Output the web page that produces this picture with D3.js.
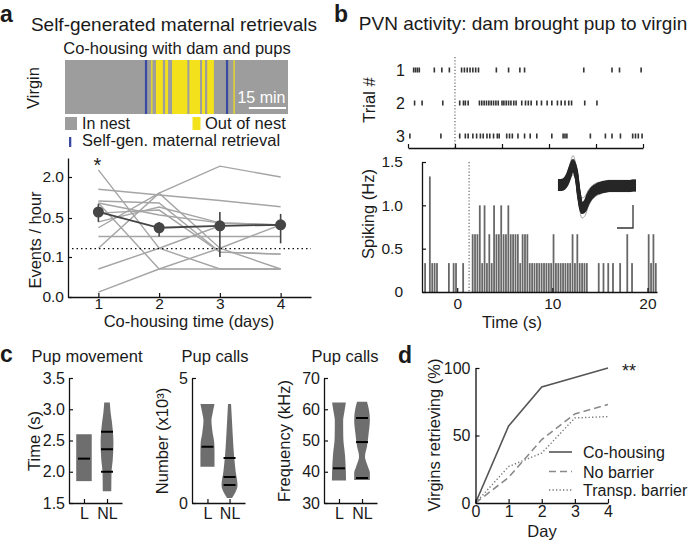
<!DOCTYPE html>
<html><head><meta charset="utf-8">
<script src="https://cdn.jsdelivr.net/npm/d3@7"></script>
<style>
body{margin:0;background:#fff}
svg{display:block}
</style></head><body>
<svg id="chart" width="691" height="544"></svg>
<script>
// ================= DATA =================
// Panel a – ethogram (minutes)
const sessionMinutes = [0, 90];
const outOfNestBouts = [[34.8,35.3],[36.7,39.5],[40.4,41.6],[43.2,49.4],[50.2,54.5],[55.3,56.5],[57.4,60.1],[68.0,68.5]];
const retrievalTimes = [32.7, 65.4];
const scaleBarMinutes = 15;

// Panel a – events / hour per virgin, co-housing days 1..4
const coDays = [1, 2, 3, 4];
const virginRates = [
  [1.55, 1.34, 1.14, 0.91],
  [0.19, 1.41, 2.40, 2.00],
  [1.12, 1.05, 0.15, 0.13],
  [1.05, 0.61, 0.45, 0.43],
  [0.68, 0.79, 0.15, 0.13],
  [0.31, 0.31, 0.31, 0.31],
  [0.07, 0.19, 0.42, 0.43],
  [0.012, 0.07, 0.19, 0.43],
  [2.26, 0.19, 0.07, 0.07],
  [1.05, 0.07, 0.07, 0.07],
  [0.40, 1.41, 0.19, 0.07],
  [0.46, 0.90, 0.45, 0.43]
];
const meanRate = [0.72, 0.40, 0.42, 0.43];
const rateErrLow = [0.46, 0.31, 0.10, 0.24];
const rateErrHigh = [1.01, 0.46, 0.72, 0.65];
const chanceRate = 0.185;
const rateTicks = [0, 0.1, 0.5, 2.0];

// Panel b – raster spike times (s)
const trial1 = [-4.4,-4.2,-4.0,-3.8,-2.2,-1.4,-0.6,0.7,1.0,1.3,1.6,1.9,2.2,2.5,4.4,5.7,6.9,7.4,13.7,16.7,17.5,19.8];
const trial2 = [-4.3,-3.5,-1.3,0.5,0.9,1.1,1.4,2.6,2.85,3.1,3.35,3.6,3.85,4.1,4.35,4.6,5.0,5.2,5.45,5.7,5.95,6.25,6.5,7.1,7.5,7.8,8.1,8.7,9.2,9.8,10.3,10.9,11.3,11.7,12.1,12.4,13.8,15.1];
const trial3 = [-4.8,-1.5,0.5,1.1,1.4,1.9,2.3,2.7,3.0,3.4,3.7,4.1,4.5,4.7,5.5,5.8,6.1,6.7,7.4,8.0,8.7,10.3,11.5,11.7,11.9,14.4,16.0,16.7,17.6,18.9,19.2,19.5,19.9];
const rasterTicks = [-5, 0, 5, 10, 15, 20];

// Panel b – PSTH (spike counts summed over 3 trials, 0.25 s bins from -3.75 s)
const histStart = -3.75, histBin = 0.25, histTrials = 3;
const histCounts = [
  0,1,0,4,1,1,1,0,0,0,
  0,1,0,1,1,0,0,1,0,0,
  0,2,2,2,3,1,3,1,2,1,
  3,2,2,3,2,2,3,2,2,2,
  2,1,2,2,2,1,1,1,1,1,
  1,1,1,1,1,2,1,1,1,1,
  1,1,1,2,1,2,1,1,1,1,
  0,0,0,0,1,0,1,0,1,0,
  1,0,0,1,0,0,2,0,1,0,
  0,0,0,0,0,2,1,2,1
];
const histMarkerTime = 1.25;
const histYTicks = [0, 0.5, 1.0, 1.5];
const histXTicks = [0, 10, 20];

// Panel b – spike waveform inset (arbitrary units, one value per sample)
const waveform = [0,0,1,5,13,20,12,-10,-23,-21,-14,-9,-6,-4,-3,-2,-1.5,-1,-1,-1,-1,-1,-1,-1,-1,-0.5,-0.5];
const waveOffsets = [-4.5,-3,-1.5,0,1.5,3,4.5];
const waveEnvelopeGain = [0.8, 1.2];

// Panel c – violins  [value, relative density]
const movementL  = [[1.85,0.97],[2.6,0.97]];
const movementNL = [[1.69,0.53],[1.8,0.54],[1.98,0.56],[2.2,0.72],[2.47,0.8],[2.79,0.62],[2.95,0.45],[3.11,0.35]];
const movementLinesL = [2.21], movementLinesNL = [2.0, 2.36, 2.64];
const callsL  = [[1.45,0.88],[2.0,0.88],[2.4,0.85],[2.8,0.65],[3.3,0.5],[3.6,0.65],[3.96,0.88]];
const callsNL = [[0.2,0.31],[0.45,0.77],[0.72,1.0],[1.25,0.77],[1.92,0.56],[2.6,0.42],[3.25,0.31],[3.96,0.19]];
const callsLinesL = [2.25], callsLinesNL = [0.72, 1.04, 1.8];
const freqL  = [[37.2,0.88],[40.1,0.86],[45.4,0.75],[50.9,0.54],[56.2,0.52],[59.5,0.7],[62.2,0.86]];
const freqNL = [[37.4,0.98],[39.6,0.98],[41.7,0.73],[44.9,0.37],[48.1,0.62],[52.3,0.83],[56.6,0.98],[59.8,0.87],[62.4,0.62]];
const freqLinesL = [41.1], freqLinesNL = [38.0, 49.5, 57.2];
const groups = ["L", "NL"];

// Panel d – % virgins retrieving
const dDays = [0, 1, 2, 3, 4];
const coHousing = [0, 57, 86, 93, 100];
const noBarrier = [0, 19, 47, 66, 73];
const transpBarrier = [0, 27, 37, 63, 64];
const dLegend = ["Co-housing", "No barrier", "Transp. barrier"];

// ================= DRAWING =================
const FONT = '"Liberation Sans", Arial, Helvetica, sans-serif';
const INK = "#1a1a1a";
const svg = d3.select("#chart").attr("font-family", FONT);
svg.append("rect").attr("width", 691).attr("height", 544).attr("fill", "#fff");

function label(x, y, str, size, opt = {}) {
  const t = svg.append("text").attr("x", x).attr("y", y).text(str)
    .attr("font-size", size).attr("fill", opt.fill || INK)
    .attr("text-anchor", opt.anchor || "start");
  if (opt.bold) t.attr("font-weight", "bold");
  if (opt.rotate) t.attr("transform", `rotate(-90,${x},${y})`);
  return t;
}
function styleAxis(g, size) {
  g.attr("font-family", FONT).attr("font-size", size);
  g.select(".domain").attr("stroke", "#111").attr("stroke-width", 1.3);
  g.selectAll(".tick line").attr("stroke", "#111").attr("stroke-width", 1.2);
  g.selectAll(".tick text").attr("fill", INK);
}

// ---- panel letters
label(0, 22, "a", 23, {bold: true});
label(334, 22, "b", 23, {bold: true});
label(0, 362, "c", 23, {bold: true});
label(398, 363, "d", 23, {bold: true});

// ================= Panel a =================
label(174, 31, "Self-generated maternal retrievals", 19, {anchor: "middle"});
label(177, 54, "Co-housing with dam and pups", 16.5, {anchor: "middle"});
label(39, 88, "Virgin", 16.5, {anchor: "middle", rotate: true});

const xE = d3.scaleLinear().domain(sessionMinutes).range([65, 288]);
svg.append("rect").attr("x", xE(0)).attr("y", 60).attr("width", xE(90) - xE(0)).attr("height", 54).attr("fill", "#9d9d9d");
svg.selectAll(".bout").data(outOfNestBouts).enter().append("rect")
  .attr("x", d => xE(d[0])).attr("width", d => xE(d[1]) - xE(d[0]))
  .attr("y", 60).attr("height", 54).attr("fill", "#f3e11c");
svg.selectAll(".retr").data(retrievalTimes).enter().append("rect")
  .attr("x", d => xE(d) - 1.1).attr("width", 2.2)
  .attr("y", 60).attr("height", 54).attr("fill", "#3a4aa3");
const sbRight = xE(sessionMinutes[1]) - 2;
const sbLeft = sbRight - (xE(scaleBarMinutes) - xE(0));
svg.append("line").attr("x1", sbLeft).attr("x2", sbRight).attr("y1", 108).attr("y2", 108)
  .attr("stroke", "#fff").attr("stroke-width", 2);
label((sbLeft + sbRight) / 2 - 6, 103, "15 min", 16, {anchor: "middle", fill: "#fff"});

// legend
svg.append("rect").attr("x", 65).attr("y", 117).attr("width", 12).attr("height", 13).attr("fill", "#9d9d9d");
label(82, 129, "In nest", 16);
svg.append("rect").attr("x", 192.5).attr("y", 117).attr("width", 8).attr("height", 13).attr("fill", "#f3e11c");
label(205, 129, "Out of nest", 16.5);
svg.append("rect").attr("x", 69).attr("y", 137).attr("width", 2.3).attr("height", 10).attr("fill", "#3a4aa3");
label(82, 146, "Self-gen. maternal retrieval", 16.5);

// line chart
const xA = d3.scaleLinear().domain([0.5, 4.5]).range([68, 311]);
const yA = d3.scaleLinear().domain([0, 0.1, 0.5, 2.0, 2.7]).range([297, 257, 218, 177, 158]);
const lineA = d3.line().x((d, i) => xA(coDays[i])).y(d => yA(d));
svg.append("g").selectAll("path").data(virginRates).enter().append("path")
  .attr("d", lineA).attr("fill", "none").attr("stroke", "#a5a5a5").attr("stroke-width", 1.4);
svg.append("line").attr("x1", 72).attr("x2", 311).attr("y1", yA(chanceRate)).attr("y2", yA(chanceRate))
  .attr("stroke", "#111").attr("stroke-width", 1.3).attr("stroke-dasharray", "1.5,3");
svg.append("g").selectAll("line").data(coDays).enter().append("line")
  .attr("x1", d => xA(d)).attr("x2", d => xA(d))
  .attr("y1", (d, i) => yA(rateErrLow[i])).attr("y2", (d, i) => yA(rateErrHigh[i]))
  .attr("stroke", "#454545").attr("stroke-width", 1.6);
svg.append("path").attr("d", lineA(meanRate)).attr("fill", "none").attr("stroke", "#454545").attr("stroke-width", 1.8);
svg.append("g").selectAll("circle").data(meanRate).enter().append("circle")
  .attr("cx", (d, i) => xA(coDays[i])).attr("cy", d => yA(d)).attr("r", 5.5).attr("fill", "#454545");
label(xA(1) - 1, 172, "*", 20, {anchor: "middle"});

const gAy = svg.append("g").attr("transform", "translate(68,0)")
  .call(d3.axisLeft(yA).tickValues(rateTicks).tickFormat(d3.format(".1f")).tickSizeInner(-4).tickSizeOuter(0).tickPadding(4));
styleAxis(gAy, 15.5);
const gAx = svg.append("g").attr("transform", "translate(0,297)")
  .call(d3.axisBottom(xA).tickValues(coDays).tickFormat(d3.format("d")).tickSizeInner(-4).tickSizeOuter(0).tickPadding(1));
styleAxis(gAx, 15.5);
label(41, 240, "Events / hour", 16.5, {anchor: "middle", rotate: true});
label(189, 327, "Co-housing time (days)", 16.5, {anchor: "middle"});

// ================= Panel b =================
label(523, 30, "PVN activity: dam brought pup to virgin", 19, {anchor: "middle"});

// raster
const xR = d3.scaleLinear().domain([-5, 20]).range([408, 643]);
const yR = d3.scaleLinear().domain([1, 3]).range([70, 136]);
[trial1, trial2, trial3].forEach((tr, k) => {
  svg.append("g").selectAll("rect").data(tr).enter().append("rect")
    .attr("x", d => xR(d) - 0.8).attr("width", 1.6)
    .attr("y", yR(k + 1) - 2.5).attr("height", 5).attr("fill", "#333");
  label(405, yR(k + 1) + 5.7, String(k + 1), 16, {anchor: "end"});
});
svg.append("line").attr("x1", xR(0)).attr("x2", xR(0)).attr("y1", 57).attr("y2", 148)
  .attr("stroke", "#666").attr("stroke-width", 1.2).attr("stroke-dasharray", "1.2,2");
const gRx = svg.append("g").attr("transform", "translate(0,148)")
  .call(d3.axisBottom(xR).tickValues(rasterTicks).tickFormat("").tickSizeInner(-4).tickSizeOuter(0));
styleAxis(gRx, 15);
label(375, 100, "Trial #", 16.5, {anchor: "middle", rotate: true});

// histogram
const xH = d3.scaleLinear().domain([-3.7, 21]).range([422, 657]);
const yH = d3.scaleLinear().domain([0, 1.5]).range([292, 162]);
const hg = svg.append("g");
histCounts.forEach((c, i) => {
  if (c === 0) return;
  const t0 = histStart + i * histBin;
  const x0 = Math.max(xH(t0), 422.5), x1 = xH(t0 + histBin);
  if (x1 <= x0) return;
  const rate = c / histTrials;
  hg.append("rect").attr("x", x0 + 0.3).attr("width", Math.max(x1 - x0 - 0.6, 0.6))
    .attr("y", yH(rate)).attr("height", yH(0) - yH(rate)).attr("fill", "#676767");
});
svg.append("line").attr("x1", xH(histMarkerTime)).attr("x2", xH(histMarkerTime)).attr("y1", 162).attr("y2", 292)
  .attr("stroke", "#666").attr("stroke-width", 1.2).attr("stroke-dasharray", "1.2,2");
const gHy = svg.append("g").attr("transform", "translate(422,0)")
  .call(d3.axisLeft(yH).tickValues(histYTicks).tickFormat(d => d === 0 ? "0" : d3.format(".1f")(d))
    .tickSizeInner(-4).tickSizeOuter(0).tickPadding(19));
styleAxis(gHy, 15.5);
const gHx = svg.append("g").attr("transform", "translate(0,292)")
  .call(d3.axisBottom(xH).tickValues(histXTicks).tickFormat(d3.format("d")).tickSizeInner(-4).tickSizeOuter(0).tickPadding(6));
styleAxis(gHx, 15.5);
label(374, 214, "Spiking (Hz)", 16.5, {anchor: "middle", rotate: true});
label(512, 328, "Time (s)", 16.5, {anchor: "middle"});

// waveform inset
const xW = d3.scaleLinear().domain([0, waveform.length - 1]).range([558, 636]);
const yW = d3.scaleLinear().domain([-25, 25]).range([210, 160]);
const waveLine = (gain, off) => d3.line().curve(d3.curveCatmullRom)
  .x((d, i) => xW(i)).y(d => yW(d * gain) + off)(waveform);
waveEnvelopeGain.forEach(g => {
  [-5.5, 5.5].forEach(o => svg.append("path").attr("d", waveLine(g, o)).attr("fill", "none")
    .attr("stroke", "#8a8a8a").attr("stroke-width", 0.8));
});
waveOffsets.forEach(o => svg.append("path").attr("d", waveLine(1, o)).attr("fill", "none")
  .attr("stroke", "#262626").attr("stroke-width", 3));
svg.append("path").attr("d", "M617,228H633V205").attr("fill", "none").attr("stroke", "#333").attr("stroke-width", 1.3);

// ================= Panel c =================
const VW = 8;
function violinPanel(cfg) {
  const y = d3.scaleLinear().domain(cfg.domain).range([503, 378]);
  const x = d3.scalePoint().domain(groups).range([cfg.x0, cfg.x0 + 53]).padding(cfg.pad);
  const area = cx => d3.area().curve(d3.curveMonotoneY)
    .y(d => y(d[0])).x0(d => cx - VW * d[1]).x1(d => cx + VW * d[1]);
  [[cfg.L, cfg.linesL, "L"], [cfg.NL, cfg.linesNL, "NL"]].forEach(([prof, lines, gname]) => {
    const cx = x(gname);
    svg.append("path").attr("d", area(cx)(prof)).attr("fill", "#6e6e6e");
    lines.forEach(v => svg.append("line").attr("x1", cx - 6).attr("x2", cx + 6)
      .attr("y1", y(v)).attr("y2", y(v)).attr("stroke", "#000").attr("stroke-width", 2));
  });
  const gy = svg.append("g").attr("transform", `translate(${cfg.x0},0)`)
    .call(d3.axisLeft(y).tickValues(cfg.ticks).tickFormat(cfg.fmt).tickSizeInner(-4).tickSizeOuter(0).tickPadding(4));
  styleAxis(gy, 16);
  const gx = svg.append("g").attr("transform", "translate(0,503)")
    .call(d3.axisBottom(x).tickSizeInner(-4).tickSizeOuter(0).tickPadding(5));
  styleAxis(gx, 16);
  label(cfg.titleX, 362, cfg.title, 16.5, {anchor: "middle"});
  label(cfg.ylabX, 441, cfg.ylab, 16.5, {anchor: "middle", rotate: true});
}
violinPanel({domain: [1.5, 3.5], x0: 69, pad: 0.65, L: movementL, NL: movementNL,
  linesL: movementLinesL, linesNL: movementLinesNL, ticks: [1.5, 2.0, 2.5, 3.0, 3.5],
  fmt: d3.format(".1f"), title: "Pup movement", titleX: 87, ylab: "Time (s)", ylabX: 40});
violinPanel({domain: [0, 5], x0: 192, pad: 0.7, L: callsL, NL: callsNL,
  linesL: callsLinesL, linesNL: callsLinesNL, ticks: [0, 5],
  fmt: d3.format("d"), title: "Pup calls", titleX: 215, ylab: "Number (x10³)", ylabX: 168});
violinPanel({domain: [30, 70], x0: 324, pad: 0.65, L: freqL, NL: freqNL,
  linesL: freqLinesL, linesNL: freqLinesNL, ticks: [30, 40, 50, 60, 70],
  fmt: d3.format("d"), title: "Pup calls", titleX: 345, ylab: "Frequency (kHz)", ylabX: 290});

// ================= Panel d =================
const xD = d3.scaleLinear().domain([0, 4]).range([475.5, 608]);
const yD = d3.scaleLinear().domain([0, 100]).range([503, 368]);
const lineD = d3.line().x((d, i) => xD(dDays[i])).y(d => yD(d));
const dStyles = [
  {data: coHousing, color: "#555", dash: null, w: 1.6},
  {data: noBarrier, color: "#8a8a8a", dash: "7,4", w: 1.6},
  {data: transpBarrier, color: "#777", dash: "1.3,2.2", w: 1.4}
];
dStyles.forEach(s => {
  const p = svg.append("path").attr("d", lineD(s.data)).attr("fill", "none")
    .attr("stroke", s.color).attr("stroke-width", s.w);
  if (s.dash) p.attr("stroke-dasharray", s.dash);
});
const gDy = svg.append("g").attr("transform", "translate(475.5,0)")
  .call(d3.axisLeft(yD).tickValues([0, 50, 100]).tickSizeInner(-4).tickSizeOuter(0).tickPadding(5));
styleAxis(gDy, 16);
const gDx = svg.append("g").attr("transform", "translate(0,503)")
  .call(d3.axisBottom(xD).tickValues(dDays).tickFormat(d3.format("d")).tickSizeInner(-4).tickSizeOuter(0).tickPadding(3));
styleAxis(gDx, 16);
label(440, 435, "Virgins retrieving (%)", 16.5, {anchor: "middle", rotate: true});
label(542, 537, "Day", 16.5, {anchor: "middle"});
label(622, 377, "**", 18);
dLegend.forEach((name, i) => {
  const yy = [452, 471.5, 490][i];
  const s = dStyles[i];
  const l = svg.append("line").attr("x1", 549).attr("x2", 572).attr("y1", yy).attr("y2", yy)
    .attr("stroke", s.color).attr("stroke-width", s.w);
  if (s.dash) l.attr("stroke-dasharray", s.dash);
  label(583, yy + 6, name, 16);
});
</script>
</body></html>
